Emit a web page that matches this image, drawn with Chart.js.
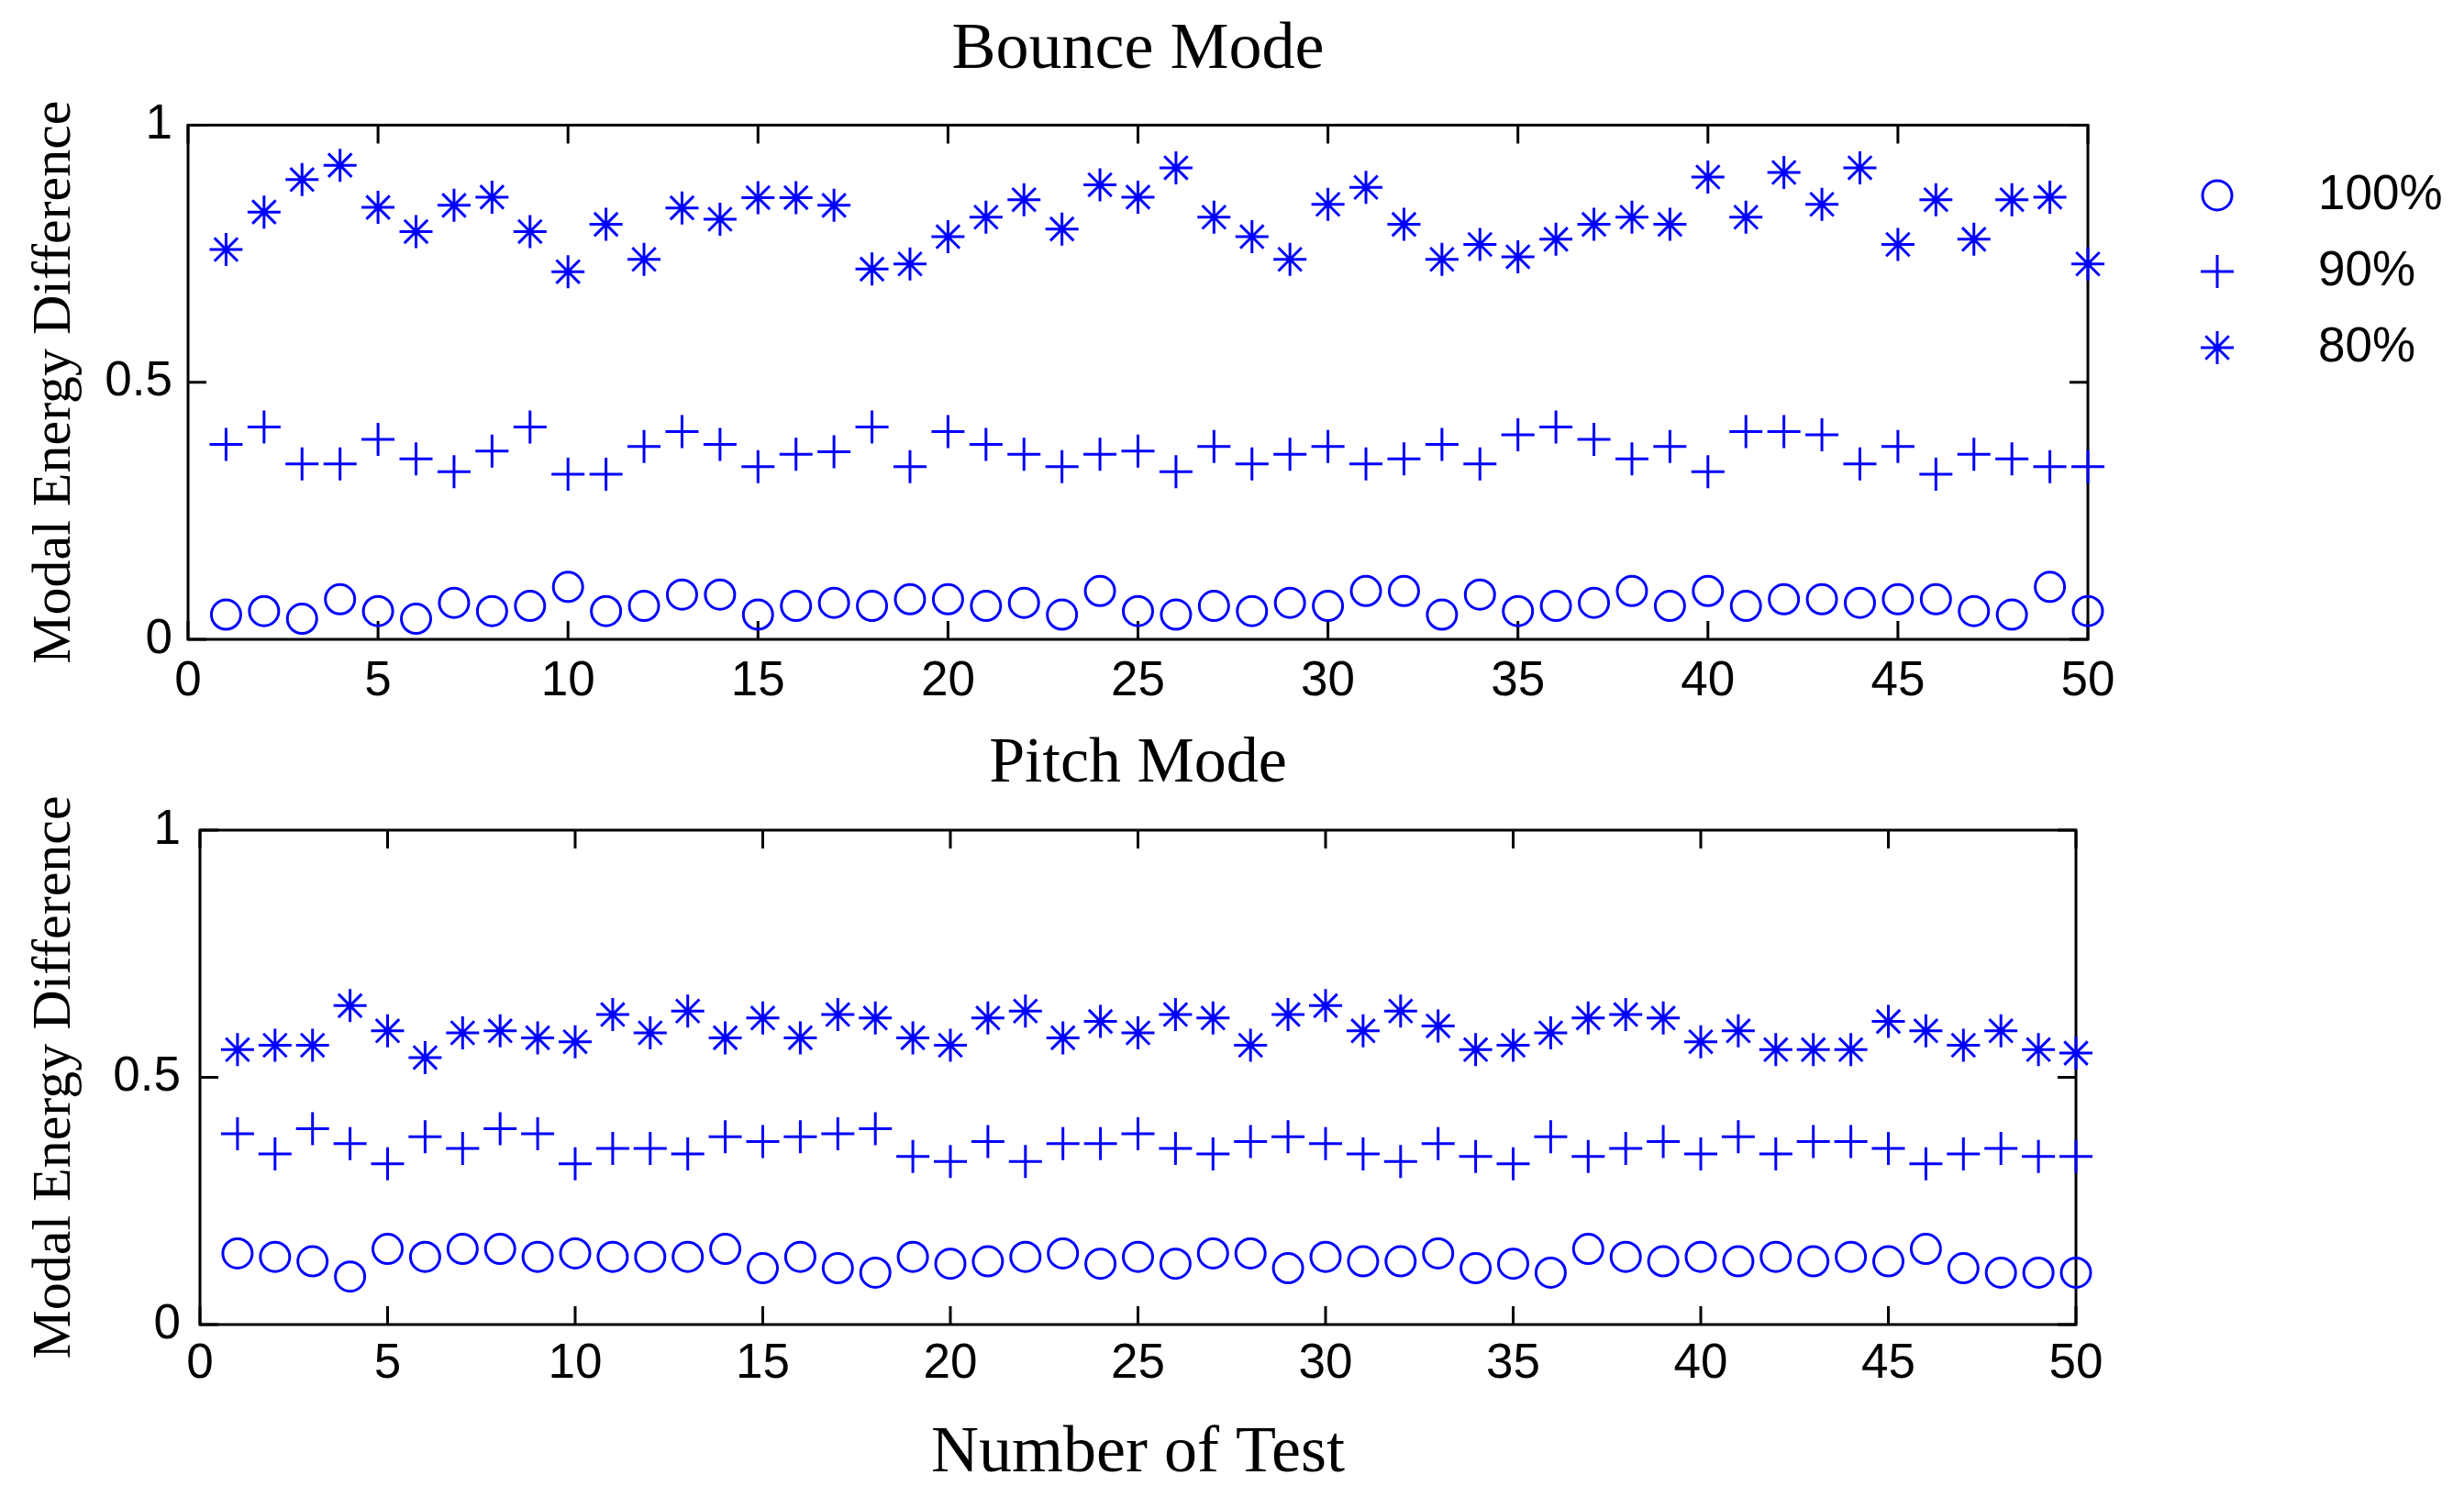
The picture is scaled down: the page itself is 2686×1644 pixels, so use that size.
<!DOCTYPE html>
<html>
<head>
<meta charset="utf-8">
<title>Modal Energy Difference</title>
<script src="https://cdn.jsdelivr.net/npm/chart.js"></script>
<style>
    body { margin: 0; background: #fff; }
    .wrap { position: absolute; left: 0; }
    canvas { display: block; }
</style>
</head>
<body>
<div class="wrap" style="top:0px"><canvas id="bounceChart" width="2686" height="790"></canvas></div>
<div class="wrap" style="top:770px"><canvas id="pitchChart" width="2686" height="874"></canvas></div>
<script>
const tests = [1, 2, 3, 4, 5, 6, 7, 8, 9, 10, 11, 12, 13, 14, 15, 16, 17, 18, 19, 20,
    21, 22, 23, 24, 25, 26, 27, 28, 29, 30, 31, 32, 33, 34, 35, 36, 37, 38, 39, 40,
    41, 42, 43, 44, 45, 46, 47, 48, 49, 50];
const seriesNames = ['100%', '90%', '80%'];
const xTicks = [0, 5, 10, 15, 20, 25, 30, 35, 40, 45, 50];
const yTicks = [0, 0.5, 1];
const yTickLabels = ['0', '0.5', '1'];

// bounce mode
const bounce100 = [0.048, 0.055, 0.040, 0.078, 0.055, 0.040, 0.071, 0.055, 0.065, 0.102,
    0.055, 0.065, 0.087, 0.087, 0.048, 0.065, 0.071, 0.065, 0.078, 0.078,
    0.065, 0.071, 0.048, 0.094, 0.055, 0.048, 0.065, 0.055, 0.071, 0.065,
    0.094, 0.094, 0.048, 0.087, 0.055, 0.065, 0.071, 0.094, 0.065, 0.094,
    0.065, 0.078, 0.078, 0.071, 0.078, 0.078, 0.055, 0.048, 0.102, 0.055];
const bounce90 = [0.379, 0.413, 0.341, 0.341, 0.389, 0.351, 0.326, 0.366, 0.413, 0.321,
    0.321, 0.375, 0.404, 0.379, 0.336, 0.360, 0.365, 0.413, 0.336, 0.404,
    0.379, 0.360, 0.336, 0.360, 0.366, 0.326, 0.375, 0.341, 0.360, 0.375,
    0.341, 0.351, 0.379, 0.341, 0.398, 0.413, 0.389, 0.351, 0.375, 0.326,
    0.404, 0.404, 0.398, 0.341, 0.375, 0.321, 0.360, 0.351, 0.336, 0.336];
const bounce80 = [0.758, 0.831, 0.894, 0.922, 0.840, 0.793, 0.844, 0.860, 0.793, 0.715,
    0.807, 0.739, 0.839, 0.817, 0.859, 0.859, 0.844, 0.720, 0.730, 0.783,
    0.821, 0.855, 0.798, 0.884, 0.860, 0.917, 0.821, 0.783, 0.739, 0.846,
    0.879, 0.807, 0.739, 0.768, 0.744, 0.778, 0.807, 0.821, 0.807, 0.899,
    0.821, 0.908, 0.846, 0.917, 0.768, 0.855, 0.778, 0.855, 0.860, 0.730];

// pitch mode
const pitch100 = [0.144, 0.137, 0.128, 0.097, 0.153, 0.137, 0.153, 0.153, 0.137, 0.144,
    0.137, 0.137, 0.137, 0.153, 0.114, 0.137, 0.114, 0.105, 0.137, 0.123,
    0.128, 0.137, 0.144, 0.123, 0.137, 0.123, 0.144, 0.144, 0.114, 0.137,
    0.128, 0.128, 0.144, 0.114, 0.123, 0.105, 0.153, 0.137, 0.128, 0.137,
    0.128, 0.137, 0.128, 0.137, 0.128, 0.153, 0.114, 0.105, 0.105, 0.105];
const pitch90 = [0.386, 0.345, 0.396, 0.366, 0.325, 0.380, 0.356, 0.396, 0.386, 0.325,
    0.356, 0.356, 0.345, 0.380, 0.370, 0.380, 0.386, 0.396, 0.340, 0.330,
    0.370, 0.330, 0.366, 0.366, 0.386, 0.356, 0.345, 0.370, 0.380, 0.366,
    0.345, 0.330, 0.366, 0.340, 0.325, 0.380, 0.340, 0.356, 0.370, 0.345,
    0.380, 0.345, 0.370, 0.370, 0.356, 0.325, 0.345, 0.356, 0.340, 0.340];
const pitch80 = [0.556, 0.565, 0.565, 0.645, 0.594, 0.540, 0.590, 0.594, 0.580, 0.572,
    0.627, 0.590, 0.634, 0.580, 0.620, 0.580, 0.627, 0.620, 0.580, 0.565,
    0.620, 0.634, 0.580, 0.613, 0.590, 0.627, 0.620, 0.565, 0.627, 0.645,
    0.594, 0.634, 0.604, 0.556, 0.565, 0.590, 0.620, 0.627, 0.620, 0.572,
    0.594, 0.556, 0.556, 0.556, 0.613, 0.594, 0.565, 0.594, 0.556, 0.549];

const markerBlue = '#0000ff';
const sansFont = '"Liberation Sans", Arial, sans-serif';
const serifFont = '"Liberation Serif", "Times New Roman", serif';

function toPoints(values) {
    return tests.map((t, i) => ({ x: t, y: values[i] }));
}

function makeDatasets(v100, v90, v80) {
    const styles = [
        { pointStyle: 'circle', radius: 16 },
        { pointStyle: 'cross', radius: 18 },
        { pointStyle: 'star', radius: 18 }
    ];
    return [v100, v90, v80].map((vals, i) => ({
        label: seriesNames[i],
        data: toPoints(vals),
        showLine: false,
        pointStyle: styles[i].pointStyle,
        pointRadius: styles[i].radius,
        pointHoverRadius: styles[i].radius,
        pointBorderWidth: 3,
        pointHoverBorderWidth: 3,
        borderColor: markerBlue,
        backgroundColor: 'rgba(0,0,0,0)',
        clip: false
    }));
}

// matlab style box with inward ticks on all four sides
const boxTicks = {
    id: 'boxTicks',
    beforeDatasetsDraw(chart) {
        const { ctx, chartArea: a } = chart;
        const xs = chart.scales.x;
        const ys = chart.scales.y;
        const len = 20;
        ctx.save();
        ctx.strokeStyle = '#000';
        ctx.lineWidth = 3;
        ctx.strokeRect(a.left, a.top, a.right - a.left, a.bottom - a.top);
        ctx.beginPath();
        xs.ticks.forEach(t => {
            const px = xs.getPixelForValue(t.value);
            ctx.moveTo(px, a.bottom);
            ctx.lineTo(px, a.bottom - len);
            ctx.moveTo(px, a.top);
            ctx.lineTo(px, a.top + len);
        });
        ys.ticks.forEach(t => {
            const py = ys.getPixelForValue(t.value);
            ctx.moveTo(a.left, py);
            ctx.lineTo(a.left + len, py);
            ctx.moveTo(a.right, py);
            ctx.lineTo(a.right - len, py);
        });
        ctx.stroke();
        ctx.restore();
    }
};

// legend out to the right, marker then text
const markerLegend = {
    id: 'markerLegend',
    afterDraw(chart, args, opts) {
        const ctx = chart.ctx;
        ctx.save();
        chart.data.datasets.forEach((ds, i) => {
            const cy = opts.top + i * opts.step;
            ctx.strokeStyle = ds.borderColor;
            ctx.fillStyle = 'rgba(0,0,0,0)';
            ctx.lineWidth = ds.pointBorderWidth;
            if (Chart.helpers && Chart.helpers.drawPoint) {
                Chart.helpers.drawPoint(ctx, {
                    pointStyle: ds.pointStyle,
                    radius: ds.pointRadius,
                    borderWidth: ds.pointBorderWidth,
                    rotation: 0
                }, opts.markerX, cy);
            } else {
                const r = ds.pointRadius;
                ctx.beginPath();
                if (ds.pointStyle === 'circle') {
                    ctx.arc(opts.markerX, cy, r, 0, Math.PI * 2);
                } else {
                    ctx.moveTo(opts.markerX - r, cy); ctx.lineTo(opts.markerX + r, cy);
                    ctx.moveTo(opts.markerX, cy - r); ctx.lineTo(opts.markerX, cy + r);
                    if (ds.pointStyle === 'star') {
                        const d = r * Math.SQRT1_2;
                        ctx.moveTo(opts.markerX - d, cy - d); ctx.lineTo(opts.markerX + d, cy + d);
                        ctx.moveTo(opts.markerX + d, cy - d); ctx.lineTo(opts.markerX - d, cy + d);
                    }
                }
                ctx.stroke();
            }
            ctx.fillStyle = '#000';
            ctx.font = '53px ' + sansFont;
            ctx.textAlign = 'left';
            ctx.textBaseline = 'middle';
            ctx.fillText(ds.label, opts.textX, cy);
        });
        ctx.restore();
    }
};

function makeOptions(cfg) {
    return {
        responsive: false,
        devicePixelRatio: 1,
        animation: false,
        layout: { padding: { left: 0, right: cfg.padRight, top: 0, bottom: 0 } },
        plugins: {
            legend: { display: false },
            tooltip: { enabled: false },
            title: {
                display: true,
                text: cfg.title,
                color: '#000',
                fullSize: false,
                font: { family: serifFont, size: cfg.titleSize, weight: 'normal', lineHeight: 1.2 },
                padding: { top: cfg.titleTop, bottom: cfg.titleBottom }
            },
            markerLegend: cfg.legend || false
        },
        scales: {
            x: {
                type: 'linear',
                min: 0,
                max: 50,
                afterBuildTicks: (scale) => { scale.ticks = xTicks.map(v => ({ value: v })); },
                afterFit: (scale) => { scale.height = cfg.xHeight; },
                grid: { display: false, drawTicks: false },
                border: { display: false },
                ticks: {
                    autoSkip: false,
                    maxRotation: 0,
                    padding: cfg.xPad,
                    color: '#000',
                    font: { family: sansFont, size: 53 },
                    callback: (value) => String(value)
                },
                title: cfg.xTitle ? {
                    display: true,
                    text: cfg.xTitle,
                    color: '#000',
                    font: { family: serifFont, size: 72, weight: 'normal', lineHeight: 1.2 },
                    padding: { top: 0, bottom: 16 }
                } : { display: false }
            },
            y: {
                type: 'linear',
                min: 0,
                max: 1,
                afterBuildTicks: (scale) => { scale.ticks = yTicks.map(v => ({ value: v })); },
                afterFit: (scale) => { scale.width = cfg.yWidth; },
                grid: { display: false, drawTicks: false },
                border: { display: false },
                ticks: {
                    padding: cfg.yPad,
                    color: '#000',
                    font: { family: sansFont, size: 53 },
                    callback: (value) => {
                        const i = yTicks.indexOf(value);
                        return i >= 0 ? yTickLabels[i] : String(value);
                    }
                },
                title: {
                    display: true,
                    text: 'Modal Energy Difference',
                    color: '#000',
                    font: { family: serifFont, size: 60, weight: 'normal', lineHeight: 1.2 },
                    padding: { top: 24, bottom: 0 }
                }
            }
        }
    };
}

var ctx = document.getElementById('bounceChart').getContext('2d');
var bounceChart = new Chart(ctx, { //eslint-disable-line
    type: 'scatter',
    data: { datasets: makeDatasets(bounce100, bounce90, bounce80) },
    options: makeOptions({
        title: 'Bounce Mode',
        titleSize: 72,
        titleTop: 12,
        titleBottom: 38,
        padRight: 410,
        xHeight: 93,
        xPad: 15,
        yWidth: 205,
        yPad: 17,
        legend: { markerX: 2417, textX: 2527, top: 213, step: 83 }
    }),
    plugins: [boxTicks, markerLegend]
});

var ctx2 = document.getElementById('pitchChart').getContext('2d');
var pitchChart = new Chart(ctx2, { //eslint-disable-line
    type: 'scatter',
    data: { datasets: makeDatasets(pitch100, pitch90, pitch80) },
    options: makeOptions({
        title: 'Pitch Mode',
        titleSize: 70,
        titleTop: 22,
        titleBottom: 29,
        padRight: 423,
        xHeight: 200,
        xPad: 12,
        xTitle: 'Number of Test',
        yWidth: 218,
        yPad: 21
    }),
    plugins: [boxTicks]
});
</script>
</body>
</html>
